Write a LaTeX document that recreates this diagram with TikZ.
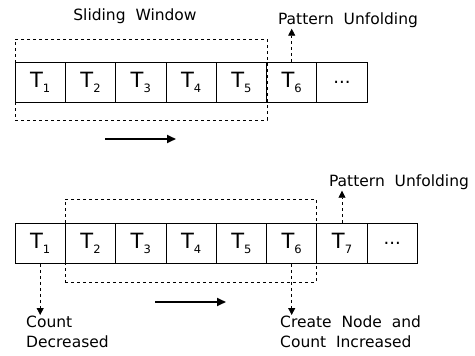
\documentclass[tikz,border=0pt]{standalone}
\usepackage{fontspec}
\setmainfont{DejaVu Sans}
\usetikzlibrary{arrows.meta}
\newcommand{\tk}[1]{T\raisebox{-5pt}{\fontsize{11.5}{12}\selectfont #1}}
\tikzset{
	cell/.style={draw, line width=0.9pt, minimum width=50.3pt, minimum height=40pt, inner sep=0pt, font=\fontsize{21}{22}\selectfont},
	dots/.style={cell, font=\fontsize{18}{20}\selectfont},
	window/.style={draw, dashed, line width=0.8pt, inner sep=0pt},
	label/.style={inner sep=1pt, font=\fontsize{15.5}{20}\selectfont},
	unfold/.style={dashed, line width=0.8pt, -{Triangle[length=7pt,width=7pt]}},
	move/.style={line width=1.8pt, -{Triangle[length=9pt,width=8pt]}}
}
\begin{document}
\begin{tikzpicture}[x=1pt, y=-1pt]
		\useasboundingbox (0,0) rectangle (475,356);
		% first step
		\node[label] (sw) at (135,16) {Sliding\ \ Window};
		\node[window, minimum width=252pt, minimum height=81pt] (win1) at (141,79.5) {};
		\node[cell] (c11) at (40.2,82) {\tk{1}};
		\node[cell] (c12) at (90.5,82) {\tk{2}};
		\node[cell] (c13) at (140.8,82) {\tk{3}};
		\node[cell] (c14) at (191.1,82) {\tk{4}};
		\node[cell] (c15) at (241.4,82) {\tk{5}};
		\node[cell] (c16) at (291.7,82) {\tk{6}};
		\node[dots] (c17) at (342,82) {...};
		\node[label] (pu1) at (348,20) {Pattern\ \ Unfolding};
		\draw[unfold] (c16.north) -- (c16.north |- pu1.south);
		\coordinate (m1a) at (105,139);
		\coordinate (m1b) at (176,139);
		\draw[move] (m1a) -- (m1b);
		% second step
		\node[window, minimum width=251pt, minimum height=83pt] (win2) at (190.5,240.5) {};
		\node[cell] (c21) at (40.2,243.5) {\tk{1}};
		\node[cell] (c22) at (90.5,243.5) {\tk{2}};
		\node[cell] (c23) at (140.8,243.5) {\tk{3}};
		\node[cell] (c24) at (191.1,243.5) {\tk{4}};
		\node[cell] (c25) at (241.4,243.5) {\tk{5}};
		\node[cell] (c26) at (291.7,243.5) {\tk{6}};
		\node[cell] (c27) at (342,243.5) {\tk{7}};
		\node[dots] (c28) at (392.3,243.5) {...};
		\node[label] (pu2) at (399,182) {Pattern\ \ Unfolding};
		\draw[unfold] (c27.north) -- (c27.north |- pu2.south);
		\node[label, align=left, anchor=north west] (cd) at (25,315) {Count\\Decreased};
		\draw[unfold] (c21.south) -- (c21.south |- cd.north);
		\node[label, align=left, anchor=north west] (ci) at (279,315) {Create\ \ Node\ \ and\\Count\ \ Increased};
		\draw[unfold] (c26.south) -- (c26.south |- ci.north);
		\coordinate (m2a) at (155,302);
		\coordinate (m2b) at (226,302);
		\draw[move] (m2a) -- (m2b);
	\end{tikzpicture}
\end{document}
